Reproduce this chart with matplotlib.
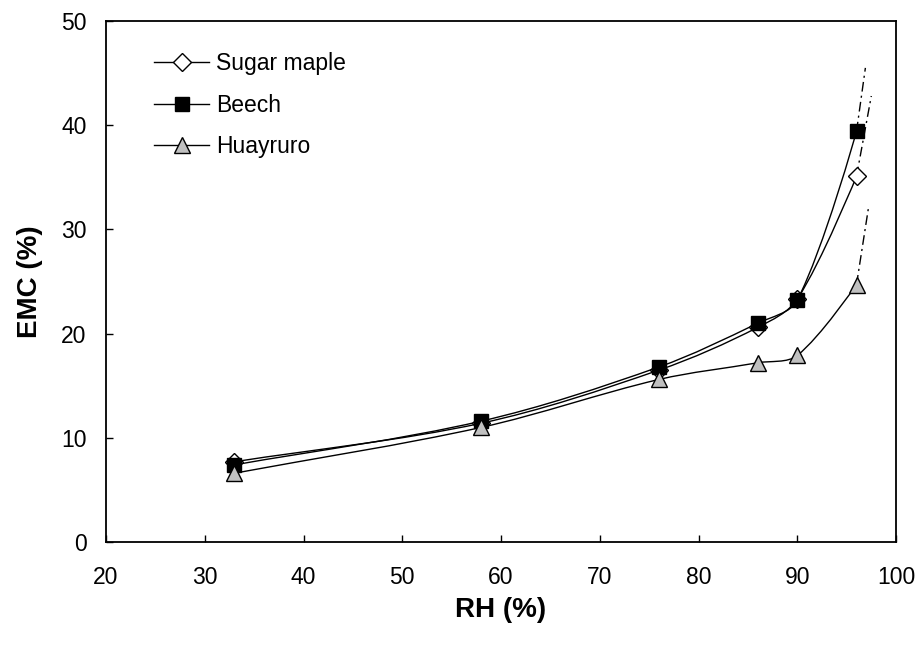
import numpy as np
import matplotlib.pyplot as plt
from matplotlib.path import Path
import matplotlib.patches as patches
from matplotlib.lines import Line2D

plt.rcParams['font.family'] = ['Liberation Sans', 'DejaVu Sans']

# relative humidity steps (%)
rh = [33, 58, 76, 86, 90, 96]

# equilibrium moisture content (%)
emc_maple = [7.7, 11.4, 16.5, 20.6, 23.3, 35.1]
emc_beech = [7.4, 11.6, 16.8, 21.0, 23.2, 39.4]
emc_huayruro = [6.6, 11.0, 15.6, 17.2, 17.9, 24.7]

# where the dash-dot extrapolation runs to beyond the last point
extrap_maple = (97.5, 42.8)
extrap_beech = (96.9, 45.5)
extrap_huayruro = (97.2, 32.0)


def smooth_path(ax, x, y):
    # smoothed line like a spreadsheet chart: Bezier segments whose handles
    # follow the neighbour tangent, split by the lengths of the two segments
    pts = ax.transData.transform(np.column_stack([x, y]))
    n = len(pts)
    d = np.hypot(*np.diff(pts, axis=0).T)

    def handles(i):
        # (incoming, outgoing) handle vectors at point i
        if i == 0:
            return np.zeros(2), (pts[1] - pts[0]) / 3
        if i == n - 1:
            return np.zeros(2), np.zeros(2)
        t = pts[i + 1] - pts[i - 1]
        tot = d[i - 1] + d[i]
        return t * d[i - 1] / tot / 3, t * d[i] / tot / 3

    verts = [pts[0]]
    codes = [Path.MOVETO]
    for i in range(n - 1):
        verts += [pts[i] + handles(i)[1], pts[i + 1] - handles(i + 1)[0], pts[i + 1]]
        codes += [Path.CURVE4] * 3
    verts = ax.transData.inverted().transform(np.array(verts))
    return Path(verts, codes)


fig = plt.figure(figsize=(9.22, 6.5), dpi=100)
ax = fig.add_axes([106/922, 1 - 542/650, 790/922, 521/650])
ax.set_xlim(20, 100)
ax.set_ylim(0, 50)

series = [
    ("Sugar maple", emc_maple, extrap_maple, dict(marker='D', mfc='white', ms=9.5)),
    ("Beech", emc_beech, extrap_beech, dict(marker='s', mfc='black', ms=10.5)),
    ("Huayruro", emc_huayruro, extrap_huayruro, dict(marker='^', mfc='#c0c0c0', ms=12)),
]

handles = []
for name, vals, ext, mk in series:
    ax.add_patch(patches.PathPatch(smooth_path(ax, rh, vals), fill=False,
                                   edgecolor='black', lw=1.0, zorder=2))
    ax.plot([rh[-1], ext[0]], [vals[-1], ext[1]], color='black', lw=1.0,
            linestyle=(0, (7, 3, 1.5, 3)), zorder=2)
    ax.plot(rh, vals, linestyle='none', mec='black', mew=1.0, zorder=3, **mk)
    handles.append(Line2D([], [], color='black', lw=1.0, mec='black', mew=1.0, **mk))

ax.legend(handles, [s[0] for s in series], loc='upper left',
          bbox_to_anchor=(0.061, 0.941), frameon=False, fontsize=16.5,
          handlelength=2.4, handletextpad=0.3, labelspacing=0.82,
          borderpad=0, borderaxespad=0)

ax.set_xticks(np.arange(20, 101, 10))
ax.set_yticks(np.arange(0, 51, 10))
ax.tick_params(direction='in', length=5, width=1, labelsize=16.5)
ax.tick_params(axis='x', pad=17)
ax.tick_params(axis='y', pad=14)
for sp in ax.spines.values():
    sp.set_linewidth(1.3)

ax.set_xlabel("RH (%)", fontsize=20, fontweight='bold', labelpad=6)
ax.set_ylabel("EMC (%)", fontsize=20, fontweight='bold', labelpad=13)

fig.savefig("out.png", dpi=100)
